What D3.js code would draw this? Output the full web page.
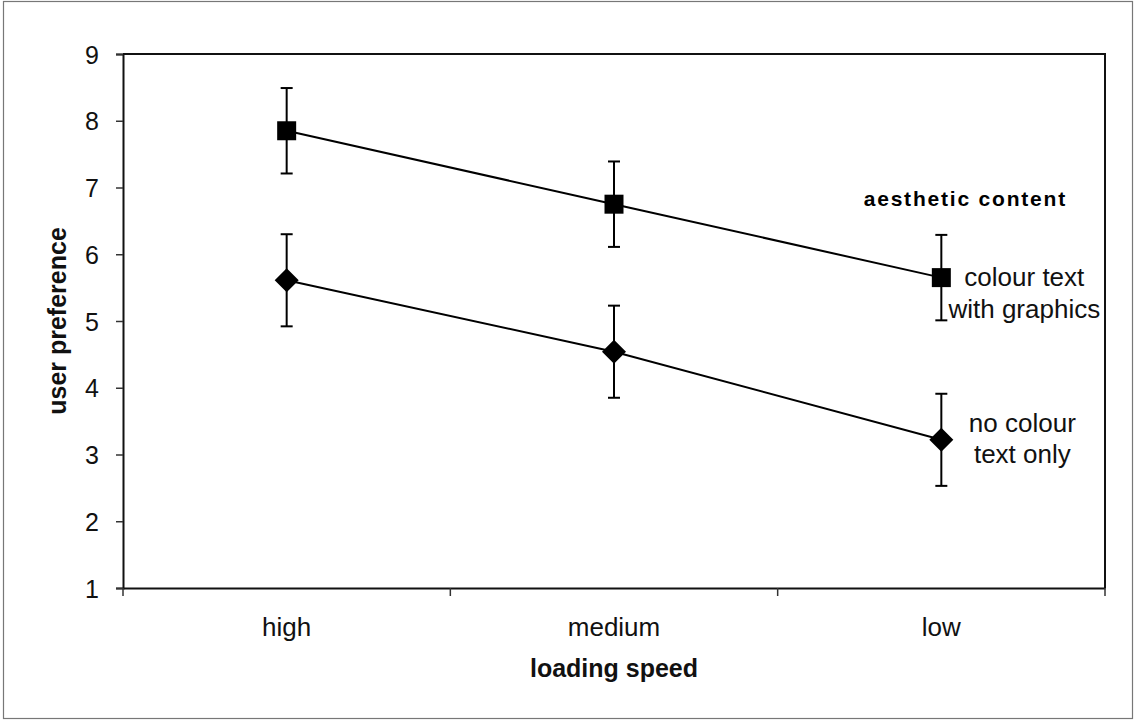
<!DOCTYPE html>
<html>
<head>
<meta charset="utf-8">
<script src="https://d3js.org/d3.v7.min.js"></script>
<style>
  body { margin: 0; background: #fff; }
  svg { display: block; font-family: "Liberation Sans", Arial, sans-serif; }
</style>
</head>
<body>
<div id="chart"></div>
<script>
// loading speed categories
const speeds = ['high', 'medium', 'low'];
const yTicks = [1, 2, 3, 4, 5, 6, 7, 8, 9];

// colour text with graphics (squares)
const graphicsMean = [7.85, 6.75, 5.65];
const graphicsErr = [0.64, 0.64, 0.64];

// no colour, text only (diamonds)
const textMean = [5.61, 4.54, 3.22];
const textErr = [0.69, 0.69, 0.69];

const W = 1135, H = 721;
const margin = { top: 54, right: 30, bottom: 133, left: 123 };
const w = 1105 - margin.left;
const h = 588 - margin.top;

const svg = d3.select('#chart').append('svg')
  .attr('width', W).attr('height', H);

// outer frame
svg.append('rect')
  .attr('x', 3.5).attr('y', 1.5).attr('width', 1129).attr('height', 717)
  .attr('fill', 'none').attr('stroke', '#777').attr('stroke-width', 1.2);

const g = svg.append('g').attr('transform', `translate(${margin.left},${margin.top})`);

const x = d3.scaleBand().domain(speeds).range([0, w]);
const cx = d => x(d) + x.bandwidth() / 2;
const y = d3.scaleLinear().domain([1, 9]).range([h, 0]);

// plot box (top and right)
g.append('path')
  .attr('d', `M0,0H${w}V${h}`)
  .attr('fill', 'none').attr('stroke', '#111').attr('stroke-width', 2);

// y axis
const yAxis = g.append('g')
  .call(d3.axisLeft(y).tickValues(yTicks).tickSize(7).tickPadding(17).tickFormat(d3.format('d')));
yAxis.select('.domain').attr('stroke', '#111').attr('stroke-width', 2);
yAxis.selectAll('.tick line').attr('stroke', '#333').attr('stroke-width', 1.5);
yAxis.selectAll('.tick text')
  .attr('font-size', 25).attr('fill', '#111').attr('dy', '0.36em')
  .attr('font-family', '"Liberation Sans", Arial, sans-serif');

// x axis: labels centred in bands, ticks on band edges
const xAxis = g.append('g').attr('transform', `translate(0,${h})`)
  .call(d3.axisBottom(x).tickSize(0).tickPadding(30));
xAxis.select('.domain').attr('stroke', '#111').attr('stroke-width', 2);
xAxis.selectAll('.tick text')
  .attr('font-size', 26).attr('fill', '#111').attr('dy', '0.71em')
  .attr('font-family', '"Liberation Sans", Arial, sans-serif');

const edges = speeds.map(d => x(d)).concat([x(speeds[speeds.length - 1]) + x.bandwidth()]);
g.selectAll('.xedge').data(edges).join('line')
  .attr('class', 'xedge')
  .attr('x1', d => d).attr('x2', d => d)
  .attr('y1', h).attr('y2', h + 8)
  .attr('stroke', '#333').attr('stroke-width', 1.5);

// axis titles
svg.append('text')
  .attr('x', margin.left + w / 2).attr('y', 677)
  .attr('text-anchor', 'middle')
  .attr('font-size', 25).attr('font-weight', 'bold').attr('fill', '#111')
  .text('loading speed');

svg.append('text')
  .attr('transform', `translate(66,${margin.top + h / 2}) rotate(-90)`)
  .attr('text-anchor', 'middle')
  .attr('font-size', 25).attr('font-weight', 'bold').attr('fill', '#111')
  .text('user preference');

function drawSeries(means, errs, shape) {
  const pts = speeds.map((s, i) => ({ s, v: means[i], e: errs[i] }));

  g.append('path')
    .datum(pts)
    .attr('fill', 'none').attr('stroke', '#000').attr('stroke-width', 2)
    .attr('d', d3.line().x(d => cx(d.s)).y(d => y(d.v)));

  const eb = g.append('g');
  pts.forEach(d => {
    const px = cx(d.s);
    eb.append('line')
      .attr('x1', px).attr('x2', px).attr('y1', y(d.v + d.e)).attr('y2', y(d.v - d.e))
      .attr('stroke', '#000').attr('stroke-width', 2);
    [d.v + d.e, d.v - d.e].forEach(v => {
      eb.append('line')
        .attr('x1', px - 6).attr('x2', px + 6).attr('y1', y(v)).attr('y2', y(v))
        .attr('stroke', '#000').attr('stroke-width', 2);
    });
  });

  const sym = shape === 'square'
    ? 'M-9.5,-9.5H9.5V9.5H-9.5Z'
    : 'M0,-12L12,0L0,12L-12,0Z';
  g.selectAll(null).data(pts).join('path')
    .attr('transform', d => `translate(${cx(d.s)},${y(d.v)})`)
    .attr('d', sym)
    .attr('fill', '#000');
  return pts;
}

const gp = drawSeries(graphicsMean, graphicsErr, 'square');
const tp = drawSeries(textMean, textErr, 'diamond');

// labels next to last points
const lx = cx('low') + 83;
const lastG = gp[gp.length - 1];
const lastT = tp[tp.length - 1];

const lab = g.append('g')
  .attr('font-size', 26).attr('fill', '#111').attr('text-anchor', 'middle');
lab.append('text').attr('x', lx).attr('y', y(lastG.v) + 8).text('colour text');
lab.append('text').attr('x', lx).attr('y', y(lastG.v) + 40).text('with graphics');
lab.append('text').attr('x', lx - 2).attr('y', y(lastT.v) - 8).text('no colour');
lab.append('text').attr('x', lx - 2).attr('y', y(lastT.v) + 23).text('text only');

g.append('text')
  .attr('x', cx('low') + 24).attr('y', 206 - margin.top)
  .attr('text-anchor', 'middle')
  .attr('font-size', 21).attr('font-weight', 'bold').attr('fill', '#000')
  .attr('letter-spacing', 1.8)
  .text('aesthetic content');
</script>
</body>
</html>
